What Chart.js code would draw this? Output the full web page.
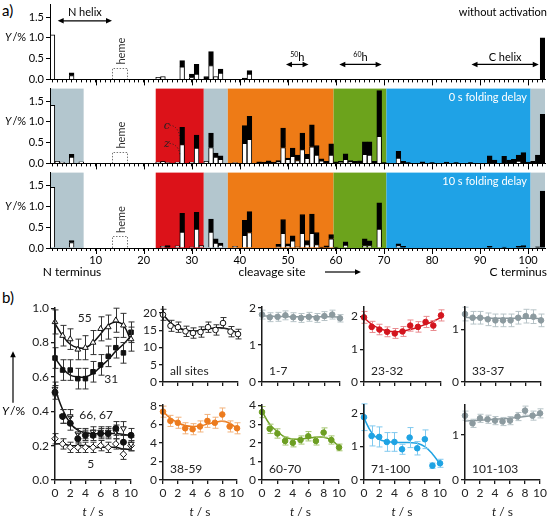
<!DOCTYPE html>
<html>
<head>
<meta charset="utf-8">
<title>Cleavage yields</title>
<script src="https://cdn.jsdelivr.net/npm/chart.js@4.4.1/dist/chart.umd.min.js"></script>
<style>
  html, body { margin: 0; padding: 0; background: #fff; }
  #fig { position: relative; width: 550px; height: 519px; overflow: hidden; }
  #fig canvas { position: absolute; }
  .tag { position: absolute; font: 15px Lato, sans-serif; color: #000; }
</style>
</head>
<body>
<div id="fig">
  <div class="tag" style="left:2px; top:1px;">a)</div>
  <div class="tag" style="left:2px; top:288px;">b)</div>
</div>
<script>
// ---------- a) yield per cleavage site ----------
const sites = [];
for (let s = 1; s <= 103; s++) sites.push(s);

// site ranges of the coloured regions (also the groups in b)
const regionStart = [1, 23, 33, 38, 60, 71, 101];
const regionEnd   = [7, 32, 37, 59, 70, 100, 103];
const regionColor = ['#b3c6ce', '#dc1219', '#b3c6ce', '#ee7b16', '#6ca31c', '#1fa2e6', '#b3c6ce'];

// [site, z fragment (white), c fragment (black, stacked on top)], Y in %
const noActivation = [[1,1.07,0],[5,0.09,0.07],[23,0.05,0],[24,0.07,0],[28,0.30,0.15],[30,0.04,0.09],
  [31,0.13,0.23],[33,0,0.07],[34,0.33,0.34],[35,0.07,0],[36,0.15,0.10],[41,0,0.03],[42,0.13,0.08],[103,0,1.00]];

const delay0s = [[1,1.40,0],[2,0.05,0],[3,0.03,0],[5,0.15,0.07],[7,0.04,0],[23,0.03,0],[24,0.04,0.01],[25,0.02,0],
  [27,0.03,0],[28,0.45,0.42],[30,0.03,0],[31,0.37,0.31],[33,0.05,0],[34,0.38,0.35],[35,0.15,0.10],[36,0.10,0.08],
  [39,0.02,0],[41,0.48,0.43],[42,0.58,0.55],[44,0,0.04],[45,0,0.03],[46,0,0.06],[47,0,0.03],[48,0.03,0.04],
  [49,0.38,0.47],[50,0.10,0.03],[51,0.17,0.20],[52,0.07,0.13],[53,0.33,0.40],[54,0.12,0.10],[55,0.40,0.53],
  [56,0.20,0.23],[57,0.06,0.05],[58,0,0.05],[59,0.20,0.27],[60,0,0.04],[61,0.02,0.03],[62,0.10,0.13],[63,0.03,0.04],
  [64,0,0.05],[65,0,0.06],[66,0.22,0.30],[67,0.20,0.32],[68,0,0.05],[69,0.65,1.10],[70,0,0.02],[73,0.13,0.16],
  [74,0,0.05],[75,0,0.02],[78,0,0.04],[80,0,0.02],[83,0,0.03],[85,0,0.02],[88,0,0.02],[92,0,0.18],[93,0,0.08],
  [95,0,0.17],[96,0,0.08],[97,0,0.10],[98,0.05,0.15],[99,0,0.26],[100,0,0.03],[101,0,0.05],[102,0,0.20],[103,0,1.18]];

const delay10s = [[1,1.45,0],[5,0.13,0.05],[24,0.04,0],[25,0,0.06],[27,0.05,0],[28,0.38,0.45],[30,0.03,0],
  [31,0.45,0.40],[32,0.06,0],[34,0.38,0.31],[35,0.12,0.10],[36,0.07,0.05],[39,0.04,0],[41,0.30,0.36],[42,0.37,0.50],
  [48,0.03,0.06],[49,0.35,0.33],[50,0.05,0.05],[51,0.17,0.12],[52,0.03,0],[53,0.35,0.45],[54,0.08,0.10],
  [55,0.35,0.46],[56,0.08,0.29],[57,0,0.02],[58,0,0.05],[59,0.22,0.10],[60,0,0.02],[62,0.07,0.08],[66,0.06,0.16],
  [67,0.06,0.11],[69,0.45,0.63],[73,0.06,0.04],[74,0,0.04],[92,0,0.04],[95,0,0.02],[98,0,0.04],[99,0,0.06],
  [102,0,0.03],[103,0,1.36]];

// ---------- b) yield vs folding delay ----------
const tSec = [0, 1, 2, 3, 4, 5, 6, 7, 8, 9, 10];

const site55     = [0.92, 0.84, 0.82, 0.76, 0.77, 0.80, 0.88, 0.89, 0.93, 0.90, 0.82];
const site55Err  = [0.07, 0.06, 0.06, 0.06, 0.07, 0.07, 0.07, 0.07, 0.07, 0.07, 0.07];
const site55Fit  = [0.91, 0.84, 0.79, 0.77, 0.77, 0.80, 0.85, 0.90, 0.92, 0.90, 0.81];
const site31     = [0.71, 0.64, 0.64, 0.59, 0.59, 0.63, 0.67, 0.72, 0.77, 0.74, 0.86];
const site31Err  = [0.06, 0.06, 0.06, 0.06, 0.06, 0.06, 0.06, 0.06, 0.06, 0.06, 0.06];
const site31Fit  = [0.71, 0.65, 0.61, 0.60, 0.60, 0.62, 0.66, 0.70, 0.75, 0.79, 0.84];
const site66     = [0.51, 0.37, 0.33, 0.24, 0.26, 0.26, 0.27, 0.27, 0.30, 0.22, 0.26];
const site67     = [0.53, 0.37, 0.37, 0.27, 0.27, 0.28, 0.28, 0.28, 0.28, 0.30, 0.21];
const site6667Err = [0.04, 0.04, 0.04, 0.03, 0.03, 0.03, 0.03, 0.03, 0.04, 0.04, 0.04];
const site6667Fit = [0.53, 0.41, 0.33, 0.29, 0.275, 0.27, 0.27, 0.27, 0.27, 0.265, 0.26];
const site5      = [0.24, 0.21, 0.19, 0.19, 0.19, 0.19, 0.20, 0.19, 0.21, 0.15, 0.20];
const site5Err   = [0.03, 0.03, 0.03, 0.03, 0.03, 0.03, 0.03, 0.03, 0.03, 0.03, 0.03];
const site5Fit   = [0.21, 0.21, 0.20, 0.20, 0.20, 0.19, 0.19, 0.19, 0.19, 0.18, 0.18];

const allSites    = [19.5, 16.3, 15.9, 14.7, 14.2, 14.5, 15.9, 15.1, 17.1, 14.6, 13.9];
const allSitesErr = [1.6, 1.6, 1.5, 1.5, 1.5, 1.5, 1.5, 1.5, 1.6, 1.5, 1.4];
const allSitesFit = [19.6, 17.2, 15.8, 15.0, 14.8, 15.0, 15.4, 15.7, 15.7, 15.2, 14.1];
const r1to7       = [1.82, 1.75, 1.76, 1.80, 1.75, 1.73, 1.76, 1.73, 1.78, 1.82, 1.72];
const r1to7Err    = [0.12, 0.12, 0.12, 0.12, 0.12, 0.12, 0.12, 0.12, 0.12, 0.12, 0.10];
const r1to7Fit    = [1.79, 1.78, 1.77, 1.77, 1.76, 1.76, 1.76, 1.76, 1.76, 1.76, 1.75];
const r23to32     = [1.97, 1.68, 1.60, 1.53, 1.48, 1.54, 1.72, 1.68, 1.83, 1.72, 2.03];
const r23to32Err  = [0.18, 0.17, 0.16, 0.15, 0.15, 0.15, 0.17, 0.16, 0.17, 0.15, 0.17];
const r23to32Fit  = [1.96, 1.76, 1.63, 1.56, 1.53, 1.55, 1.60, 1.67, 1.76, 1.85, 1.97];
const r33to37     = [1.29, 1.22, 1.22, 1.19, 1.17, 1.17, 1.17, 1.22, 1.25, 1.24, 1.17];
const r33to37Err  = [0.13, 0.12, 0.12, 0.12, 0.12, 0.12, 0.12, 0.12, 0.13, 0.13, 0.12];
const r33to37Fit  = [1.23, 1.22, 1.22, 1.21, 1.21, 1.21, 1.21, 1.21, 1.21, 1.21, 1.20];
const r38to59     = [7.4, 6.4, 6.2, 5.6, 5.5, 5.8, 6.4, 6.2, 7.1, 5.8, 5.6];
const r38to59Err  = [0.6, 0.6, 0.6, 0.6, 0.6, 0.6, 0.7, 0.6, 0.7, 0.6, 0.6];
const r38to59Fit  = [7.4, 6.7, 6.2, 5.9, 5.8, 5.85, 6.05, 6.25, 6.35, 6.15, 5.6];
const r60to70     = [3.65, 2.75, 2.50, 2.10, 2.00, 2.15, 2.35, 2.10, 2.55, 2.15, 1.75];
const r60to70Err  = [0.3, 0.25, 0.25, 0.22, 0.22, 0.22, 0.25, 0.22, 0.25, 0.22, 0.18];
const r60to70Fit  = [3.70, 3.00, 2.60, 2.30, 2.20, 2.20, 2.25, 2.30, 2.30, 2.15, 1.80];
const r71to100    = [1.88, 1.32, 1.29, 1.14, 1.14, 0.92, 1.27, 0.95, 1.22, 0.43, 0.50];
const r71to100Err = [0.40, 0.30, 0.30, 0.28, 0.28, 0.15, 0.30, 0.20, 0.28, 0.08, 0.12];
const r71to100Fit = [1.85, 1.42, 1.22, 1.15, 1.13, 1.12, 1.12, 1.10, 1.00, 0.78, 0.48];
const r101to103    = [1.42, 1.25, 1.36, 1.34, 1.31, 1.29, 1.31, 1.40, 1.53, 1.42, 1.47];
const r101to103Err = [0.10, 0.09, 0.09, 0.09, 0.09, 0.09, 0.09, 0.09, 0.10, 0.10, 0.10];
const r101to103Fit = [1.30, 1.31, 1.32, 1.33, 1.34, 1.35, 1.36, 1.38, 1.40, 1.42, 1.44];

const FONT = 'Lato';
const fig = document.getElementById('fig');

function addCanvas(left, top, w, h) {
  const c = document.createElement('canvas');
  c.width = w; c.height = h;
  c.style.left = left + 'px'; c.style.top = top + 'px';
  c.style.width = w + 'px'; c.style.height = h + 'px';
  fig.appendChild(c);
  return c;
}

function expand(rows, k) {
  const out = sites.map(() => null);
  rows.forEach(r => { if (r[k] > 0) out[r[0] - 1] = r[k]; });
  return out;
}

function arrowHead(ctx, x, y, dx, dy) {
  // filled head pointing along (dx, dy)
  const len = 6, half = 2.8;
  ctx.beginPath();
  ctx.moveTo(x, y);
  ctx.lineTo(x - dx * len - dy * half, y - dy * len + dx * half);
  ctx.lineTo(x - dx * len + dy * half, y - dy * len - dx * half);
  ctx.closePath();
  ctx.fill();
}

function dblArrow(ctx, x1, x2, y) {
  ctx.beginPath(); ctx.moveTo(x1 + 4, y); ctx.lineTo(x2 - 4, y); ctx.stroke();
  arrowHead(ctx, x1, y, -1, 0);
  arrowHead(ctx, x2, y, 1, 0);
}

// ---- decoration of the three site strips ----
function stripDeco(cfg) {
  const px = (ch, s) => ch.scales.x.getPixelForValue(s - 1);
  const py = (ch, v) => ch.scales.y.getPixelForValue(v);
  return {
    id: 'stripDeco',
    beforeDraw(chart) {
      if (!cfg.bands) return;
      const { ctx, chartArea: a } = chart;
      ctx.save();
      regionStart.forEach((s, i) => {
        const x1 = px(chart, s - 0.5), x2 = px(chart, regionEnd[i] + 0.5);
        ctx.fillStyle = regionColor[i];
        ctx.fillRect(x1, a.top, x2 - x1, a.bottom - a.top);
      });
      ctx.restore();
    },
    afterDatasetsDraw(chart) {
      const { ctx, chartArea: a } = chart;
      ctx.save();
      ctx.strokeStyle = '#000'; ctx.fillStyle = '#000'; ctx.lineWidth = 1;
      // longer ticks every 10 sites
      for (let s = 10; s <= 100; s += 10) {
        const x = Math.round(px(chart, s)) + 0.5;
        ctx.beginPath(); ctx.moveTo(x, a.bottom); ctx.lineTo(x, a.bottom + 6); ctx.stroke();
      }
      // heme marker
      ctx.strokeStyle = '#777'; ctx.setLineDash([1.5, 1.5]);
      const hx1 = Math.round(px(chart, 13.5)) + 0.5, hx2 = Math.round(px(chart, 16.5)) + 0.5;
      const hy = Math.round(py(chart, 0.28)) + 0.5;
      ctx.beginPath();
      ctx.moveTo(hx1, a.bottom); ctx.lineTo(hx1, hy); ctx.lineTo(hx2, hy); ctx.lineTo(hx2, a.bottom);
      ctx.stroke();
      ctx.setLineDash([]);
      ctx.save();
      ctx.translate(px(chart, 15.3), py(chart, 0.68));
      ctx.rotate(-Math.PI / 2);
      ctx.fillStyle = '#333'; ctx.font = '11px ' + FONT;
      ctx.textAlign = 'center'; ctx.textBaseline = 'middle';
      ctx.fillText('heme', 0, 0);
      ctx.restore();

      // Y/% axis title
      ctx.fillStyle = '#000'; ctx.textBaseline = 'middle'; ctx.textAlign = 'left';
      const yy = py(chart, 1.0);
      ctx.font = 'italic 11px ' + FONT; ctx.fillText('Y', 5, yy);
      const wY = ctx.measureText('Y').width;
      ctx.font = '11px ' + FONT; ctx.fillText('/%', 5 + wY + 1, yy);

      // panel title
      ctx.fillStyle = cfg.title.color; ctx.textAlign = 'right';
      ctx.font = '11px ' + FONT;
      ctx.fillText(cfg.title.text, px(chart, cfg.title.site), py(chart, cfg.title.y));

      if (cfg.helices) {
        ctx.fillStyle = '#000'; ctx.strokeStyle = '#000'; ctx.lineWidth = 1.2;
        cfg.helices.forEach(h => {
          const x1 = px(chart, h.from), x2 = px(chart, h.to), y = py(chart, h.y);
          dblArrow(ctx, x1, x2, y);
          const cx = (x1 + x2) / 2, ly = py(chart, h.ly);
          ctx.textBaseline = 'middle';
          if (h.sup) {
            ctx.font = '7px ' + FONT; const ws = ctx.measureText(h.sup).width;
            ctx.font = '11px ' + FONT; const wl = ctx.measureText(h.label).width;
            const x0 = cx - (ws + wl) / 2;
            ctx.textAlign = 'left';
            ctx.font = '7px ' + FONT; ctx.fillText(h.sup, x0, ly - 3);
            ctx.font = '11px ' + FONT; ctx.fillText(h.label, x0 + ws, ly);
          } else {
            ctx.textAlign = 'center'; ctx.font = '11px ' + FONT;
            ctx.fillText(h.label, cx, ly);
          }
        });
      }

      if (cfg.cz) {
        ctx.fillStyle = '#222'; ctx.strokeStyle = '#222'; ctx.lineWidth = 1;
        ctx.font = 'italic 11px "DejaVu Serif"'; ctx.textAlign = 'center'; ctx.textBaseline = 'middle';
        ctx.fillText('c', px(chart, 24.8), py(chart, 0.90));
        ctx.fillText('z', px(chart, 24.8), py(chart, 0.47));
        ctx.setLineDash([1, 2]);
        ctx.beginPath();
        ctx.moveTo(px(chart, 25.4), py(chart, 0.92));
        ctx.quadraticCurveTo(px(chart, 27.3), py(chart, 0.90), px(chart, 27.5), py(chart, 0.60));
        ctx.moveTo(px(chart, 25.4), py(chart, 0.48));
        ctx.quadraticCurveTo(px(chart, 27.2), py(chart, 0.46), px(chart, 27.5), py(chart, 0.22));
        ctx.stroke();
        ctx.setLineDash([]);
      }

      if (cfg.bottomText) {
        const ty = a.bottom + 24;
        ctx.fillStyle = '#000'; ctx.strokeStyle = '#000'; ctx.lineWidth = 1.2;
        ctx.font = '12px ' + FONT; ctx.textBaseline = 'middle';
        ctx.textAlign = 'center';
        ctx.fillText('N terminus', 72, ty);
        ctx.fillText('cleavage site', 272, ty);
        ctx.textAlign = 'right';
        ctx.fillText('C terminus', 547, ty);
        ctx.beginPath(); ctx.moveTo(325, ty); ctx.lineTo(355, ty); ctx.stroke();
        arrowHead(ctx, 361, ty, 1, 0);
      }
      ctx.restore();
    }
  };
}

function makeStrip(cfg) {
  const padT = 8, padL = 50, padR = 5, padB = cfg.padB, areaH = 76;
  const cv = addCanvas(0, cfg.top - padT, 550, padT + areaH + padB);
  const barStyle = { borderColor: '#000', borderWidth: 1, barPercentage: 1, categoryPercentage: 1 };
  new Chart(cv, {
    type: 'bar',
    data: {
      labels: sites,
      datasets: [
        Object.assign({ label: 'z', data: expand(cfg.rows, 1), backgroundColor: '#fff' }, barStyle),
        Object.assign({ label: 'c', data: expand(cfg.rows, 2), backgroundColor: '#000' }, barStyle)
      ]
    },
    options: {
      responsive: false, animation: false, events: [],
      layout: { padding: { left: 0, top: padT, right: padR, bottom: 0 } },
      plugins: { legend: { display: false }, tooltip: { enabled: false } },
      scales: {
        x: {
          stacked: true,
          afterFit: s => { s.height = padB; },
          grid: { display: true, drawOnChartArea: false, offset: false, tickLength: 3, color: '#000' },
          border: { color: '#000', width: 1, z: 1 },
          ticks: {
            autoSkip: false, maxRotation: 0, padding: 3, color: '#000',
            font: { family: FONT, size: 11 },
            callback: (v, i) => (cfg.xLabels && (i + 1) % 10 === 0) ? String(i + 1) : ''
          }
        },
        y: {
          stacked: true, min: 0, max: 1.8,
          afterFit: s => { s.width = padL; },
          grid: { display: true, drawOnChartArea: false, tickLength: 4, color: '#000' },
          border: { color: '#000', width: 1, z: 1 },
          ticks: {
            stepSize: 0.5, includeBounds: false, padding: 2, color: '#000',
            font: { family: FONT, size: 11 },
            callback: v => v.toFixed(1)
          }
        }
      }
    },
    plugins: [stripDeco(cfg)]
  });
}

makeStrip({
  rows: noActivation, top: 4, padB: 8, bands: false,
  title: { text: 'without activation', color: '#000', site: 103.9, y: 1.62 },
  helices: [
    { label: 'N helix', sup: '', from: 2.1, to: 13.4, y: 1.41, ly: 1.60 },
    { label: 'h', sup: '50', from: 49.6, to: 54.3, y: 0.36, ly: 0.53 },
    { label: 'h', sup: '60', from: 60.7, to: 69.5, y: 0.36, ly: 0.53 },
    { label: 'C helix', sup: '', from: 88.2, to: 102.2, y: 0.36, ly: 0.53 }
  ]
});
makeStrip({
  rows: delay0s, top: 88, padB: 8, bands: true, cz: true,
  title: { text: '0 s folding delay', color: '#fff', site: 99.75, y: 1.59 }
});
makeStrip({
  rows: delay10s, top: 172, padB: 42, bands: true, xLabels: true, bottomText: true,
  title: { text: '10 s folding delay', color: '#fff', site: 99.75, y: 1.59 }
});

// ---- b) time course panels ----
function timeDeco(p) {
  return {
    id: 'timeDeco',
    beforeDatasetDraw(chart, args) {
      const ds = chart.data.datasets[args.index];
      if (!ds.err) return;
      const { ctx } = chart, xs = chart.scales.x, ys = chart.scales.y;
      ctx.save();
      ctx.strokeStyle = ds.errColor; ctx.lineWidth = 1;
      ds.data.forEach((pt, i) => {
        const x = Math.round(xs.getPixelForValue(pt.x)) + 0.5;
        const lo = ys.getPixelForValue(pt.y - ds.err[i]), hi = ys.getPixelForValue(pt.y + ds.err[i]);
        ctx.beginPath();
        ctx.moveTo(x, lo); ctx.lineTo(x, hi);
        ctx.moveTo(x - 3, lo); ctx.lineTo(x + 3, lo);
        ctx.moveTo(x - 3, hi); ctx.lineTo(x + 3, hi);
        ctx.stroke();
      });
      ctx.restore();
    },
    afterDraw(chart) {
      const { ctx, chartArea: a } = chart, xs = chart.scales.x, ys = chart.scales.y;
      ctx.save();
      ctx.fillStyle = '#222'; ctx.font = '12px ' + FONT;
      if (p.name) {
        ctx.textAlign = 'left'; ctx.textBaseline = 'alphabetic';
        ctx.fillText(p.name, a.left + 7, a.bottom - 7);
      }
      (p.notes || []).forEach(n => {
        ctx.textAlign = 'center'; ctx.textBaseline = 'middle';
        ctx.fillText(n.text, xs.getPixelForValue(n.t), ys.getPixelForValue(n.v));
      });
      if (p.xLabels) {
        const cx = (a.left + a.right) / 2, ty = a.bottom + 32;
        ctx.font = 'italic 12px ' + FONT; const wt = ctx.measureText('t').width;
        ctx.font = '12px ' + FONT; const wr = ctx.measureText(' / s').width;
        const x0 = cx - (wt + wr) / 2;
        ctx.textAlign = 'left'; ctx.textBaseline = 'middle';
        ctx.font = 'italic 12px ' + FONT; ctx.fillText('t', x0, ty);
        ctx.font = '12px ' + FONT; ctx.fillText(' / s', x0 + wt, ty);
      }
      if (p.yTitle) {
        ctx.fillStyle = '#000'; ctx.strokeStyle = '#000'; ctx.lineWidth = 1.2;
        const ax = 13;
        ctx.beginPath(); ctx.moveTo(ax, ys.getPixelForValue(0.45)); ctx.lineTo(ax, ys.getPixelForValue(0.72)); ctx.stroke();
        arrowHead(ctx, ax, ys.getPixelForValue(0.72) - 5, 0, -1);
        const yy = ys.getPixelForValue(0.40);
        ctx.textAlign = 'left'; ctx.textBaseline = 'middle';
        ctx.font = 'italic 12px ' + FONT; ctx.fillText('Y', 2, yy);
        const wY = ctx.measureText('Y').width;
        ctx.font = '12px ' + FONT; ctx.fillText('/%', 2 + wY + 1, yy);
      }
      ctx.restore();
    }
  };
}

function pts(arr) { return tSec.map((t, i) => ({ x: t, y: arr[i] })); }

function makeTime(p) {
  const padL = p.padL || 30, padT = 8, padR = 8, padB = p.xLabels ? 40 : 12;
  const w = p.area.r - p.area.l, h = p.area.b - p.area.t;
  const cv = addCanvas(p.area.l - padL, p.area.t - padT, w + padL + padR, h + padT + padB);
  const axis = '#1a1a1a';
  const datasets = [];
  p.series.forEach(s => {
    if (s.fit) datasets.push({
      data: pts(s.fit), borderColor: s.color, borderWidth: 1.5, pointRadius: 0,
      tension: 0.4, order: 2, clip: false
    });
    datasets.push({
      data: pts(s.y), showLine: false, order: 1, clip: false,
      pointStyle: s.style || 'circle', pointRadius: s.r || 2.8, pointRotation: s.rot || 0,
      pointBackgroundColor: s.fill, pointBorderColor: s.color, pointBorderWidth: 1,
      err: s.err, errColor: s.errColor
    });
  });
  new Chart(cv, {
    type: 'line',
    data: { datasets },
    options: {
      responsive: false, animation: false, events: [],
      layout: { padding: { left: 0, top: padT, right: padR, bottom: 0 } },
      plugins: { legend: { display: false }, tooltip: { enabled: false } },
      scales: {
        x: {
          type: 'linear', min: 0, max: 10,
          afterFit: s => { s.height = padB; },
          grid: { display: true, drawOnChartArea: false, tickLength: 4, color: axis, lineWidth: 1.3 },
          border: { color: axis, width: 1.5, z: 1 },
          ticks: { stepSize: 2, autoSkip: false, display: !!p.xLabels, color: '#222', padding: 2, maxRotation: 0,
                   font: { family: FONT, size: 12 } }
        },
        y: {
          type: 'linear', min: 0, max: p.yMax,
          afterFit: s => { s.width = padL; },
          grid: { display: true, drawOnChartArea: false, tickLength: 4, color: axis, lineWidth: 1.3 },
          border: { color: axis, width: 1.5, z: 1 },
          ticks: { stepSize: p.step, autoSkip: false, includeBounds: false, color: '#222', padding: 2,
                   font: { family: FONT, size: 12 },
                   callback: v => p.decimals ? v.toFixed(p.decimals) : String(v) }
        }
      }
    },
    plugins: [timeDeco(p)]
  });
}

const black = '#111', blackErr = '#333';
const gray = '#8c9a9f', grayErr = '#b7c3c7';
const red = '#d3151e', redErr = '#e98a8e';
const orange = '#ec7b1e', orangeErr = '#f2b27c';
const green = '#6c9e22', greenErr = '#a2c46c';
const blue = '#1fa3e3', blueErr = '#80c9ef';

makeTime({
  area: { l: 55, t: 307, r: 132, b: 480 }, padL: 55, yMax: 1.0, step: 0.2, decimals: 1,
  xLabels: true, yTitle: true,
  notes: [{ text: '55', t: 3.9, v: 0.945 }, { text: '31', t: 7.4, v: 0.585 },
          { text: '66, 67', t: 5.4, v: 0.375 }, { text: '5', t: 4.7, v: 0.09 }],
  series: [
    { y: site55, err: site55Err, fit: site55Fit, style: 'triangle', r: 3.3, fill: '#fff', color: black, errColor: blackErr },
    { y: site31, err: site31Err, fit: site31Fit, style: 'rect', r: 3.2, fill: black, color: black, errColor: blackErr },
    { y: site66, err: site6667Err, fit: site6667Fit, style: 'circle', r: 3, fill: black, color: black, errColor: blackErr },
    { y: site67, err: site6667Err, style: 'triangle', rot: 180, r: 3.3, fill: '#fff', color: black, errColor: blackErr },
    { y: site5, err: site5Err, fit: site5Fit, style: 'rectRot', r: 3.3, fill: '#fff', color: black, errColor: blackErr }
  ]
});

const row1 = { t: 306, b: 382 }, row2 = { t: 404, b: 480 };
const col = [null, null, { l: 163, r: 238 }, { l: 262, r: 340 }, { l: 364, r: 441 }, { l: 465, r: 541 }];
const box = (c, r) => ({ l: col[c].l, r: col[c].r, t: r.t, b: r.b });

makeTime({ area: box(2, row1), yMax: 21.7, step: 5, name: 'all sites',
  series: [{ y: allSites, err: allSitesErr, fit: allSitesFit, fill: '#fff', color: black, errColor: blackErr }] });
makeTime({ area: box(3, row1), yMax: 2.02, step: 1, name: '1-7',
  series: [{ y: r1to7, err: r1to7Err, fit: r1to7Fit, fill: gray, color: gray, errColor: grayErr }] });
makeTime({ area: box(4, row1), yMax: 2.28, step: 1, name: '23-32',
  series: [{ y: r23to32, err: r23to32Err, fit: r23to32Fit, fill: red, color: red, errColor: redErr }] });
makeTime({ area: box(5, row1), yMax: 1.42, step: 1, name: '33-37',
  series: [{ y: r33to37, err: r33to37Err, fit: r33to37Fit, fill: gray, color: gray, errColor: grayErr }] });
makeTime({ area: box(2, row2), yMax: 8.1, step: 2, name: '38-59', xLabels: true,
  series: [{ y: r38to59, err: r38to59Err, fit: r38to59Fit, fill: orange, color: orange, errColor: orangeErr }] });
makeTime({ area: box(3, row2), yMax: 4.02, step: 1, name: '60-70', xLabels: true,
  series: [{ y: r60to70, err: r60to70Err, fit: r60to70Fit, fill: green, color: green, errColor: greenErr }] });
makeTime({ area: box(4, row2), yMax: 2.24, step: 1, name: '71-100', xLabels: true,
  series: [{ y: r71to100, err: r71to100Err, fit: r71to100Fit, fill: blue, color: blue, errColor: blueErr }] });
makeTime({ area: box(5, row2), yMax: 1.65, step: 1, name: '101-103', xLabels: true,
  series: [{ y: r101to103, err: r101to103Err, fit: r101to103Fit, fill: gray, color: gray, errColor: grayErr }] });
</script>
</body>
</html>
